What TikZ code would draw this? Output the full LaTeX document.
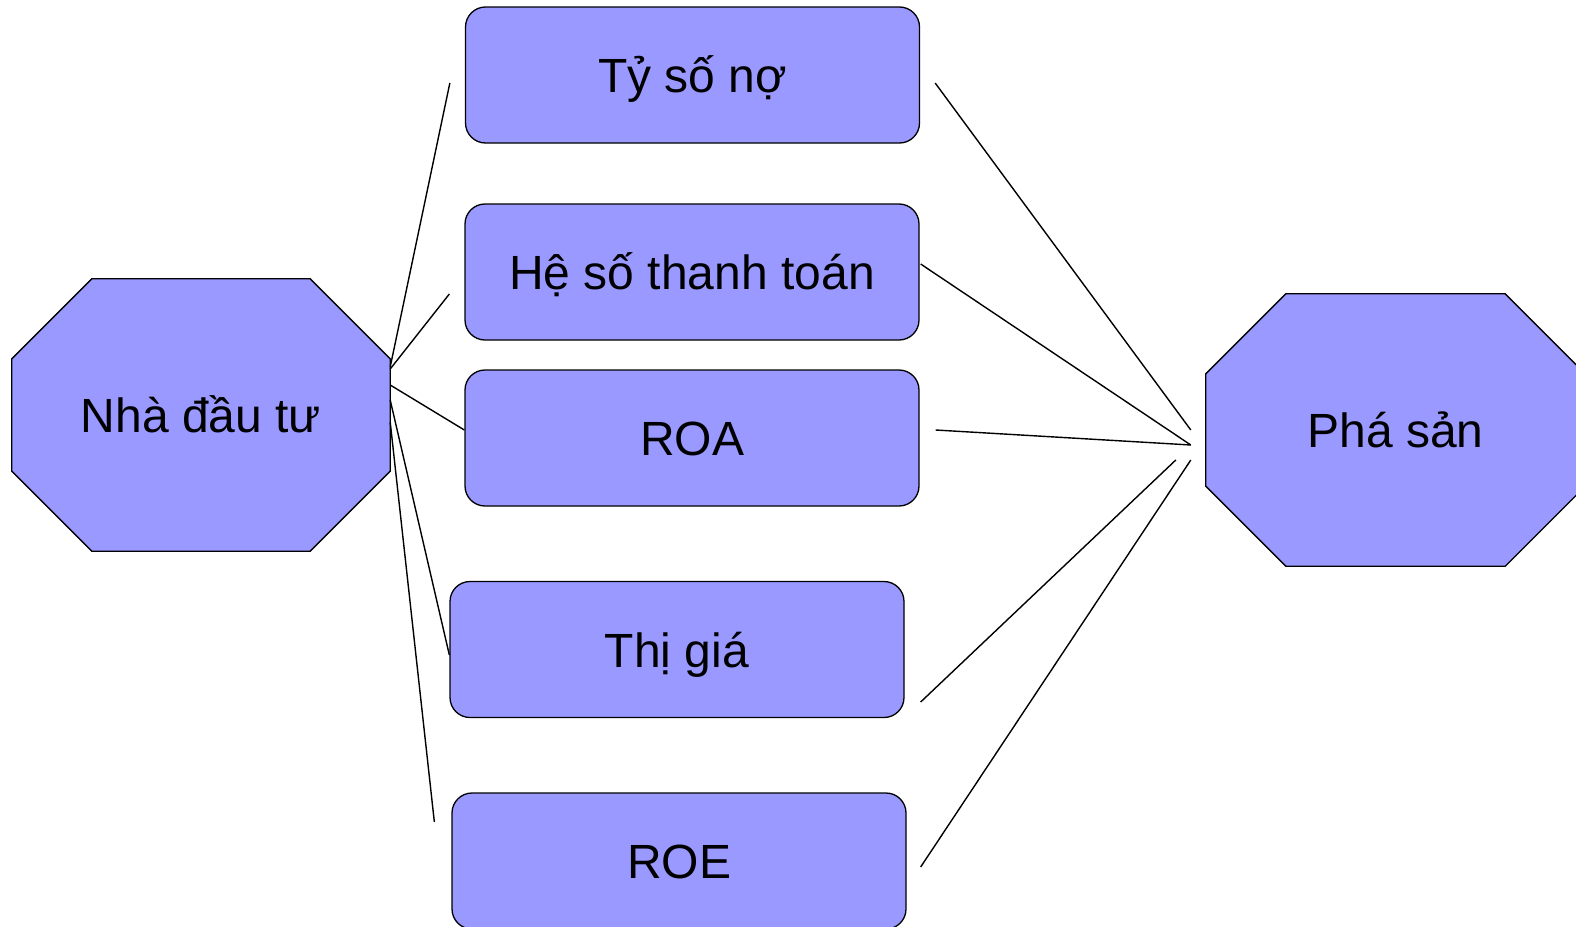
\documentclass[tikz,border=0pt]{standalone}
\usepackage{fontspec}
\setmainfont{Liberation Sans}
\usetikzlibrary{calc,backgrounds}
\definecolor{boxfill}{HTML}{9999FF}
\tikzset{
  every picture/.style={x=1pt,y=-1pt},
  labeltext/.style={font=\fontsize{48}{58}\selectfont, text=black,
    text height=35pt, text depth=0pt},
  roundbox/.style={labeltext, draw=black, line width=1.3pt, fill=boxfill,
    rounded corners=20pt, minimum width=454pt, minimum height=136pt, inner sep=0pt},
  octnode/.style={labeltext, minimum width=#1, minimum height=272pt, inner sep=0pt},
  octfill/.style={draw=black, line width=1.3pt, fill=boxfill},
  link/.style={draw=black, line width=1.4pt}
}
% octagon around a node: node name, chamfer size
\newcommand\drawoctagon[2]{%
  \filldraw[octfill] ($(#1.north west)+(#2,0)$) -- ($(#1.north east)+(-#2,0)$)
    -- ($(#1.north east)+(0,#2)$) -- ($(#1.south east)+(0,-#2)$)
    -- ($(#1.south east)+(-#2,0)$) -- ($(#1.south west)+(#2,0)$)
    -- ($(#1.south west)+(0,-#2)$) -- ($(#1.north west)+(0,#2)$) -- cycle;}
\begin{document}
\begin{tikzpicture}
\clip (0,0) rectangle (1576,926);
\useasboundingbox (0,0) rectangle (1576,926);

% two end points
\node[octnode=378pt] (investor) at (201,415) {Nhà đầu tư};
\node[octnode=379pt] (bankrupt) at (1395.5,430) {Phá sản};
\begin{scope}[on background layer]
  \drawoctagon{investor}{80}
  \drawoctagon{bankrupt}{80}
\end{scope}

% indicators
\node[roundbox] (debt)  at (692.5,75)  {Tỷ số nợ};
\node[roundbox] (pay)   at (692,272)   {Hệ số thanh toán};
\node[roundbox] (roa)   at (692,438)   {ROA};
\node[roundbox] (price) at (677,649.5) {Thị giá};
\node[roundbox] (roe)   at (679,861)   {ROE};

% connector ends on the investor side
\coordinate (i1) at ($(investor.east)+(0,-48)$);
\coordinate (i2) at ($(investor.east)+(0,-46)$);
\coordinate (i3) at ($(investor.east)+(0,-30)$);
\coordinate (i4) at ($(investor.east)+(0,-15)$);
\coordinate (i5) at ($(investor.east)+(0,7)$);
\coordinate (dl) at ($(debt.west)+(-15,8)$);
\coordinate (pl) at ($(pay.west)+(-15,22)$);
\coordinate (rl) at ($(roa.west)+(0,-8)$);
\coordinate (tl) at ($(price.west)+(0,5.5)$);
\coordinate (el) at ($(roe.west)+(-17,-39)$);

% connector ends on the bankruptcy side
\coordinate (dr) at ($(debt.east)+(15,8)$);
\coordinate (pr) at ($(pay.east)+(1,-8)$);
\coordinate (rr) at ($(roa.east)+(16,-8)$);
\coordinate (tr) at ($(price.east)+(16,52.5)$);
\coordinate (er) at ($(roe.east)+(14,6)$);
\coordinate (b1) at ($(bankrupt.west)+(-15,0)$);
\coordinate (b2) at ($(bankrupt.west)+(-15,15)$);
\coordinate (b3) at ($(bankrupt.west)+(-30,30)$);
\coordinate (b4) at ($(bankrupt.west)+(-15,30)$);

\draw[link] (i1) -- (dl);
\draw[link] (i2) -- (pl);
\draw[link] (i3) -- (rl);
\draw[link] (i4) -- (tl);
\draw[link] (i5) -- (el);

\draw[link] (dr) -- (b1);
\draw[link] (pr) -- (b2);
\draw[link] (rr) -- (b2);
\draw[link] (tr) -- (b3);
\draw[link] (er) -- (b4);
\end{tikzpicture}
\end{document}
